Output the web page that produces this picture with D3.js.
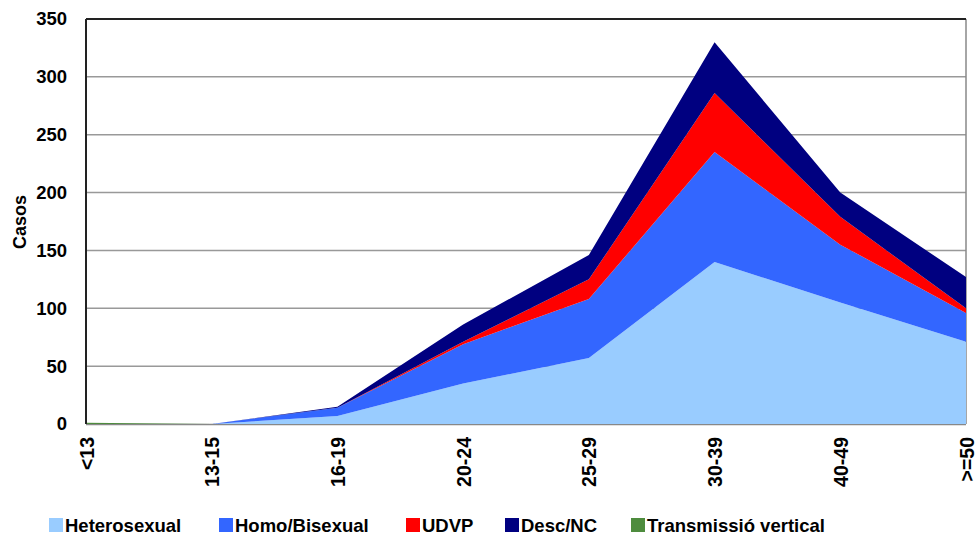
<!DOCTYPE html>
<html>
<head>
<meta charset="utf-8">
<script src="https://cdn.jsdelivr.net/npm/d3@7"></script>
<style>
  body { margin: 0; background: #fff; }
  text { font-family: "Liberation Sans", Arial, sans-serif; font-weight: bold; fill: #000; }
</style>
</head>
<body>
<div id="chart"></div>
<script>
var width = 976,
  height = 533;

// age groups
var categories = ["<13", "13-15", "16-19", "20-24", "25-29", "30-39", "40-49", ">=50"];

// cases per transmission group
var heterosexual = [0, 0, 7, 35, 57, 140, 105, 71];
var homoBisexual = [0, 0, 7, 34, 51, 95, 50, 25];
var udvp = [0, 0, 0, 2, 17, 51, 24, 4];
var descNC = [0, 0, 1, 15, 21, 44, 21, 27];
var vertical = [1, 0, 0, 0, 0, 0, 0, 0];

var seriesNames = ["Heterosexual", "Homo/Bisexual", "UDVP", "Desc/NC", "Transmissió vertical"];
var seriesColors = ["#99ccff", "#3366ff", "#ff0000", "#000080", "#4e8c3e"];
var yTicks = [0, 50, 100, 150, 200, 250, 300, 350];

var table = categories.map(function(c, i) {
  return {
    cat: c,
    "Heterosexual": heterosexual[i],
    "Homo/Bisexual": homoBisexual[i],
    "UDVP": udvp[i],
    "Desc/NC": descNC[i],
    "Transmissió vertical": vertical[i]
  };
});

var plotLeft = 86, plotRight = 966, plotTop = 19, plotBottom = 424;

var svg = d3.select("#chart").append("svg")
  .attr("width", width)
  .attr("height", height);

var x = d3.scalePoint()
  .domain(categories)
  .range([plotLeft, plotRight]);

var y = d3.scaleLinear()
  .domain([0, 350])
  .range([plotBottom, plotTop]);

// gridlines
svg.append("g")
  .selectAll("line")
  .data(yTicks.filter(function(d) { return d > 0 && d < 350; }))
  .enter().append("line")
  .attr("x1", plotLeft)
  .attr("x2", plotRight)
  .attr("y1", function(d) { return y(d); })
  .attr("y2", function(d) { return y(d); })
  .style("stroke", "#999")
  .style("stroke-width", 1.5);

// bottom and right frame (under the areas)
svg.append("line")
  .attr("x1", plotLeft).attr("x2", plotRight).attr("y1", plotBottom + 0.5).attr("y2", plotBottom + 0.5)
  .style("stroke", "#888").style("stroke-width", 1.5);
svg.append("line")
  .attr("x1", plotRight).attr("x2", plotRight).attr("y1", plotTop).attr("y2", plotBottom)
  .style("stroke", "#888").style("stroke-width", 1.5);

var stacked = d3.stack().keys(seriesNames)(table);

var area = d3.area()
  .x(function(d) { return x(d.data.cat); })
  .y0(function(d) { return y(d[0]); })
  .y1(function(d) { return y(d[1]); });

svg.append("g")
  .selectAll("path")
  .data(stacked)
  .enter().append("path")
  .attr("d", area)
  .style("fill", function(d, i) { return seriesColors[i]; })
  .style("stroke", "none");

// top and left frame
svg.append("line")
  .attr("x1", plotLeft).attr("x2", plotRight).attr("y1", plotTop).attr("y2", plotTop)
  .style("stroke", "#222").style("stroke-width", 2);
svg.append("line")
  .attr("x1", plotLeft).attr("x2", plotLeft).attr("y1", plotTop).attr("y2", plotBottom)
  .style("stroke", "#222").style("stroke-width", 2);

// y axis labels
var yAxis = d3.axisLeft(y)
  .tickValues(yTicks)
  .tickSize(0)
  .tickPadding(19);

var yG = svg.append("g")
  .attr("transform", "translate(" + plotLeft + ",0)")
  .call(yAxis);
yG.select(".domain").remove();
yG.selectAll("text")
  .style("font-size", "18.5px")
  .style("font-family", "'Liberation Sans', Arial, sans-serif")
  .style("font-weight", "bold");

svg.append("text")
  .attr("transform", "translate(26,222) rotate(-90)")
  .style("text-anchor", "middle")
  .style("font-size", "18px")
  .text("Casos");

// x axis labels
var xAxis = d3.axisBottom(x).tickSize(0).tickPadding(0);
var xG = svg.append("g")
  .attr("transform", "translate(0," + plotBottom + ")")
  .call(xAxis);
xG.select(".domain").remove();
xG.selectAll("text")
  .attr("transform", "rotate(-90)")
  .attr("x", -13)
  .attr("y", 0)
  .attr("dy", "0.36em")
  .style("text-anchor", "end")
  .style("font-size", "19.5px")
  .style("font-family", "'Liberation Sans', Arial, sans-serif")
  .style("font-weight", "bold");

// legend
var legendX = [49, 219, 406, 505, 631];
var legend = svg.append("g")
  .selectAll("g")
  .data(seriesNames)
  .enter().append("g")
  .attr("transform", function(d, i) { return "translate(" + legendX[i] + ",518)"; });

legend.append("rect")
  .attr("width", 14)
  .attr("height", 14)
  .style("fill", function(d, i) { return seriesColors[i]; });

legend.append("text")
  .attr("x", 16)
  .attr("y", 14)
  .style("font-size", "18.5px")
  .text(function(d) { return d; });
</script>
</body>
</html>
